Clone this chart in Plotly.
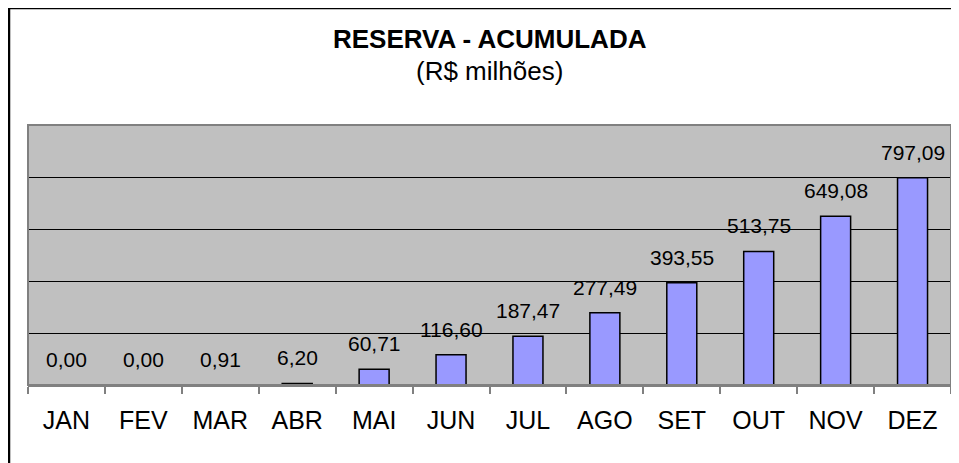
import plotly.graph_objects as go

months = ["JAN", "FEV", "MAR", "ABR", "MAI", "JUN", "JUL", "AGO", "SET", "OUT", "NOV", "DEZ"]
reserva = [0.00, 0.00, 0.91, 6.20, 60.71, 116.60, 187.47, 277.49, 393.55, 513.75, 649.08, 797.09]
title_text = "RESERVA - ACUMULADA"
subtitle_text = "(R$ milhões)"

FONT = "Liberation Sans, Arial, sans-serif"
# the page body has an 8px default margin; compensate so the picture lines up
OX, OY = 8, 8
WIN_W, WIN_H = 959, 463
W, H = WIN_W - OX, WIN_H - OY
# plot area in window pixels: x 28..951, y 125..385
ML = 28 - OX
MT = 125 - OY
MR = W - (951 - OX)
MB = H - (385 - OY)
PW = W - ML - MR
PH = H - MT - MB


def wx(px):
    """window pixel x -> paper x"""
    return (px - OX - ML) / PW


def wy(py):
    """window pixel y -> paper y"""
    return 1 + (MT - (py - OY)) / PH


fig = go.Figure()
fig.add_trace(go.Bar(
    x=months, y=reserva,
    marker=dict(color="#9999FF", line=dict(color="#000000", width=1.5)),
    hoverinfo="x+y",
))

annotations = []
for m, v in zip(months, reserva):
    annotations.append(dict(
        x=m, y=v, xref="x", yref="y",
        text=f"{v:.2f}".replace(".", ","),
        showarrow=False, yanchor="bottom", yshift=12,
        font=dict(family=FONT, size=21, color="#000000"),
    ))

annotations.append(dict(
    x=0.5, y=wy(39), xref="paper", yref="paper",
    text=f"<b>{title_text}</b>", showarrow=False, yanchor="middle",
    font=dict(family=FONT, size=26, color="#000000"),
))
annotations.append(dict(
    x=0.5, y=wy(71), xref="paper", yref="paper",
    text=subtitle_text, showarrow=False, yanchor="middle",
    font=dict(family=FONT, size=26, color="#000000"),
))

shapes = [
    # plot area border
    dict(type="rect", xref="paper", yref="paper", x0=0, y0=0, x1=1, y1=1,
         line=dict(color="#808080", width=2), layer="above"),
    # outer chart border
    dict(type="rect", xref="paper", yref="paper",
         x0=wx(9), y0=wy(WIN_H + 10),
         x1=wx(WIN_W + 10), y1=wy(8),
         line=dict(color="#000000", width=2.5)),
]

fig.update_layout(
    width=W, height=H,
    margin=dict(l=ML, r=MR, t=MT, b=MB, pad=0),
    paper_bgcolor="#FFFFFF",
    plot_bgcolor="#C0C0C0",
    bargap=0.61,
    showlegend=False,
    annotations=annotations,
    shapes=shapes,
    font=dict(family=FONT, color="#000000"),
)
fig.update_xaxes(
    type="category",
    range=[-0.5, 11.5],
    tickson="boundaries",
    ticks="outside", ticklen=7, tickwidth=1.5, tickcolor="#808080",
    showline=True, linecolor="#808080", linewidth=2,
    showgrid=False,
    tickfont=dict(family=FONT, size=25, color="#000000"),
    ticklabelstandoff=12,
)
fig.update_yaxes(
    range=[0, 1000],
    dtick=200,
    showticklabels=False,
    showgrid=True, gridcolor="#000000", gridwidth=1,
    zeroline=False,
    showline=False,
)

fig.write_html("out.html")
